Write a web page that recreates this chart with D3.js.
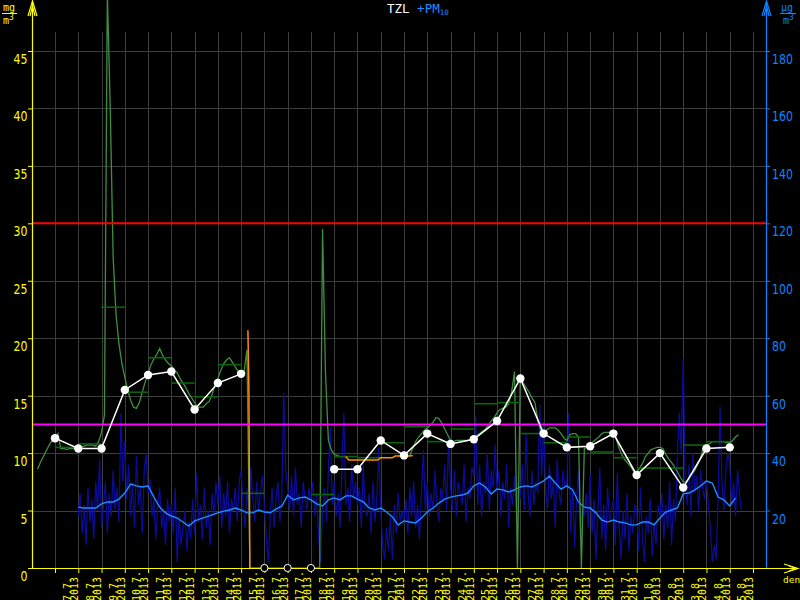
<!DOCTYPE html>
<html><head><meta charset="utf-8">
<script src="https://cdn.jsdelivr.net/npm/d3@7"></script>
<style>html,body{margin:0;padding:0;background:#000;}svg{display:block}</style>
</head><body>
<svg id="c" width="800" height="600"></svg>
<script>
// ---------------- DATA ----------------
// TZL (mg/m3), 3-hourly readings starting 6.7.2013 06:00 UTC
const tzlStart = Date.UTC(2013,6,6,6);
const tzlStepH = 3;
const tzl = [
 8.6,9.2,9.7,10.2,10.7,11.1,11.3,11.7,
 10.4,10.4,10.3,10.4,10.4,10.4,10.5,10.5,
 10.6,10.7,10.7,10.7,10.6,11.0,11.8,13.3,
 50,40,27,22,19.5,17.8,16.6,15.5,
 14.6,14.0,13.9,14.4,15.3,16.2,16.9,17.7,
 18.2,18.6,19.1,18.5,18.1,17.8,17.6,17.2,
 17.0,16.5,16.1,15.7,15.2,14.8,14.4,14.0,
 14.0,14.0,14.3,14.5,15.1,15.9,16.5,17.2,
 17.8,18.1,18.3,17.9,17.5,17.1,17.1,17.1,
 19.0,
 0,0,0,0,0,0,0,0,0,0,0,0,0,0,0,0,0,0,0,0,0,0,0,0,0,
 29.5,
 17,11.1,10.3,9.9,9.8,9.7,9.7,9.7,
 null,null,null,null,null,null,null,null,null,null,null,null,null,null,null,null,null,null,null,null,null,
 9.8,10.4,11.0,11.4,11.7,12.0,12.2,12.4,
 12.7,13.1,13.0,12.6,12.1,11.6,11.1,11.0,
 11.1,11.1,11.1,11.1,11.1,11.2,11.3,11.5,
 11.7,11.9,12.1,12.4,12.8,13.1,13.5,13.8,
 13.9,14.0,14.3,15.3,17.1,0,16.8,16.1,
 15.7,15.3,14.8,14.4,12.9,12.0,11.8,12.0,
 12.2,12.2,12.2,12.0,11.7,11.3,11.1,11.6,
 11.7,11.7,11.4,0,10.4,10.5,10.7,11.0,
 11.2,11.4,11.7,11.8,11.8,11.8,11.7,11.2,
 10.4,9.8,9.4,9.1,8.8,8.4,8.3,8.7,
 9.1,9.7,10.0,10.3,10.4,10.5,10.5,10.4,
 9.9,9.5,9.2,8.8,8.4,7.9,7.5,7.5,
 7.8,8.2,8.5,9.0,9.6,10.6,10.7,10.8,
 11.0,11.0,11.0,11.0,11.0,10.9,10.9,11.1,
 11.4,11.6
];
// second TZL trace (orange), hourly piece and 3-hourly piece
const orangeAStart = Date.UTC(2013,6,15,7);
const orangeA = [20.7, 15.5, 0];
const orangeBStart = Date.UTC(2013,6,19,12);
const orangeB = [9.7,9.4,9.4,9.4,9.4,9.4,9.4,9.4,9.4,9.4,9.4,9.4,9.6,9.6,9.6,9.6,9.6,9.75,9.75,9.75,9.75,9.75,9.75,9.8];

// daily TZL steps, days from 7.7.2013
const dayStart = Date.UTC(2013,6,7);
const tzlDaily = [10.5,10.8,22.7,15.3,18.3,16.1,14.9,17.7,6.5,0,0,6.4,9.7,9.6,10.9,12.3,11.0,12.1,14.3,14.4,11.7,10.9,11.4,10.1,9.6,8.7,8.7,10.7,11.0];
// TZL value at midnight (white points), null = missing
const tzlMidnight = [11.3,10.4,10.4,15.5,16.8,17.1,13.8,16.1,16.9,null,null,null,8.6,8.6,11.1,9.8,11.7,10.8,11.2,12.8,16.5,11.7,10.5,10.6,11.7,8.1,10.0,7.0,10.4,10.5];

// PM10 (ug/m3), 2-hourly from 8.7.2013 00:00
const pm10Start = Date.UTC(2013,6,8);
const pm10StepH = 2;
const pm10 = [
 18,26,12,22,8,28,16,24,10,30,20,38,
 14,22,30,12,26,18,34,20,28,16,54,30,
 44,24,36,18,30,14,39,22,28,12,34,40,
 26,31,18,24,10,22,28,14,20,8,24,16,
 22,12,28,2,18,8,14,20,6,16,10,24,
 12,33,16,22,10,28,14,20,8,26,18,30,
 22,32,14,26,18,30,12,24,20,28,16,30,
 34,22,14,28,18,35,24,16,30,20,26,32,
 22,10,2,18,28,14,24,30,16,26,61,34,
 28,20,32,18,35,22,26,14,30,24,20,28,
 24,30,18,26,10,2,20,28,16,34,49,22,
 30,18,26,14,36,54,22,28,16,36,24,30,
 22,28,14,36,20,18,26,12,30,16,24,42,
 20,8,3,14,6,18,3,22,12,26,16,20,
 16,24,12,28,18,30,14,22,10,26,41,20,
 30,18,26,20,34,22,16,28,24,36,20,45,
 28,20,34,18,30,26,22,36,16,28,24,35,
 32,53,22,36,18,30,26,40,20,34,28,43,
 26,34,18,30,24,36,14,28,22,32,20,30,
 24,36,20,47,26,18,34,22,30,26,57,32,
 51,28,20,36,24,30,14,38,26,22,34,28,
 30,54,12,28,7,24,34,10,22,18,26,14,
 33,12,24,3,20,35,10,22,6,28,16,20,
 24,8,33,14,3,20,10,26,6,18,12,22,
 20,6,28,10,2,18,12,24,4,16,8,22,
 18,26,10,22,14,30,8,24,16,40,54,40,
 73,30,22,36,18,40,26,32,20,34,28,24,
 30,22,14,2,8,3,24,56,30,20,34,40,
 36,22,30,18,34,26,20
];
// PM10 24h running mean, 6-hourly from 8.7.2013 00:00
const pm10AvgStart = Date.UTC(2013,6,8);
const pm10AvgStepH = 6;
const pm10Avg = [
 21.2,20.9,20.9,20.9,22.3,23.0,23.0,24.0,26.1,29.2,28.6,28.2,
 28.6,24.7,21.2,19.2,18.1,17.4,16.0,14.6,16.4,17.1,17.8,18.5,
 19.2,19.8,20.2,20.9,20.2,19.2,19.2,20.2,19.5,19.2,20.5,21.6,
 25.4,23.7,24.4,24.7,23.7,22.3,21.6,23.7,24.4,23.7,25.1,25.1,
 24.0,23.0,20.9,20.2,20.9,19.5,17.8,15.0,16.4,16.0,15.7,17.4,
 19.5,20.9,22.6,24.0,24.7,25.1,25.4,26.1,28.6,29.6,28.2,25.8,
 27.5,27.2,26.5,27.2,28.2,28.6,28.2,29.2,30.3,32.0,29.6,27.5,
 28.6,27.2,23.0,21.2,20.9,19.2,16.7,16.0,16.7,16.0,15.7,15.0,
 15.0,16.0,16.0,15.0,17.4,19.5,20.2,20.9,25.8,26.1,27.2,28.6,
 30.3,29.6,24.7,23.7,21.6,24.4
];
// limits
const limitTZL = 30;      // left axis
const limitPM10 = 50;     // right axis
const leftTicks = [0,5,10,15,20,25,30,35,40,45];
const rightTicks = [20,40,60,80,100,120,140,160,180];
const dayCount = 30;

// ---------------- SCALES ----------------
const H = 3600e3, D = 24*H;
const svg = d3.select("#c");
svg.append("rect").attr("width",800).attr("height",600).attr("fill","#000");
const x = d3.scaleUtc().domain([dayStart, dayStart + dayCount*D]).range([55,753]);
const yL = d3.scaleLinear().domain([0,45]).range([568,51]);
const yR = d3.scaleLinear().domain([0,180]).range([568,51]);
const X0 = 32, X1 = 766, YB = 568, YT = 32;
const days = d3.utcDay.range(new Date(dayStart), new Date(dayStart + dayCount*D + 1));

// grid
const grid = svg.append("g").attr("stroke","#3d3d3d").attr("stroke-width",1);
grid.selectAll("line.h").data(leftTicks.filter(v=>v>0)).join("line")
  .attr("x1",X0).attr("x2",X1).attr("y1",d=>Math.round(yL(d))+0.5).attr("y2",d=>Math.round(yL(d))+0.5);
grid.selectAll("line.v").data(days).join("line")
  .attr("x1",d=>Math.round(x(d))+0.5).attr("x2",d=>Math.round(x(d))+0.5).attr("y1",YT).attr("y2",YB);

// series helpers
const seq = (start, stepH, arr) => arr.map((v,i)=>({t:new Date(start + i*stepH*H), v}));
const lineL = d3.line().defined(d=>d.v!=null).x(d=>x(d.t)).y(d=>yL(d.v));
const lineR = d3.line().defined(d=>d.v!=null).x(d=>x(d.t)).y(d=>yR(d.v));

// PM10 hourly
svg.append("path").datum(seq(pm10Start,pm10StepH,pm10)).attr("d",lineR)
  .attr("fill","none").attr("stroke","#0c0c9c").attr("stroke-width",1.2);
// PM10 running mean
svg.append("path").datum(seq(pm10AvgStart,pm10AvgStepH,pm10Avg)).attr("d",lineR)
  .attr("fill","none").attr("stroke","#1e8cff").attr("stroke-width",1.4);

// TZL hourly
svg.append("path").datum(seq(tzlStart,tzlStepH,tzl)).attr("d",lineL)
  .attr("fill","none").attr("stroke","#3f8f3f").attr("stroke-width",1.3);
// daily steps
svg.append("g").selectAll("line").data(tzlDaily.map((v,i)=>({i,v}))).join("line")
  .attr("x1",d=>x(dayStart+d.i*D)).attr("x2",d=>x(dayStart+(d.i+1)*D))
  .attr("y1",d=>yL(d.v)).attr("y2",d=>yL(d.v))
  .attr("stroke","#0b640b").attr("stroke-width",1.6);
// orange trace
svg.append("path").datum(seq(orangeAStart,1,orangeA)).attr("d",lineL)
  .attr("fill","none").attr("stroke","#ff8c00").attr("stroke-width",1.5);
svg.append("path").datum(seq(orangeBStart,3,orangeB)).attr("d",lineL)
  .attr("fill","none").attr("stroke","#ff8c00").attr("stroke-width",1.5);

// limit lines
svg.append("line").attr("x1",X0).attr("x2",X1).attr("y1",yL(limitTZL)).attr("y2",yL(limitTZL))
  .attr("stroke","#ff0000").attr("stroke-width",2);
svg.append("line").attr("x1",X0).attr("x2",X1).attr("y1",yR(limitPM10)).attr("y2",yR(limitPM10))
  .attr("stroke","#ff00ff").attr("stroke-width",2);

// white midnight points
const mid = tzlMidnight.map((v,i)=>({t:new Date(dayStart+i*D), v}));
svg.append("path").datum(mid).attr("d",lineL).attr("fill","none").attr("stroke","#fff").attr("stroke-width",1.5);
svg.append("g").selectAll("circle").data(mid.filter(d=>d.v!=null)).join("circle")
  .attr("cx",d=>x(d.t)).attr("cy",d=>yL(d.v)).attr("r",4.2).attr("fill","#fff");

// axes ------------------------------------------------
const yellow = "#ffff00", blue = "#0a84ff";
// bottom ticks
const gx = svg.append("g").attr("transform",`translate(0,${YB})`)
  .call(d3.axisBottom(x).tickValues(days).tickSize(5).tickFormat(""));
gx.select(".domain").remove();
gx.selectAll("line").attr("stroke",yellow);
// bottom labels at noon
const noon = days.slice(0,dayCount).map(d=>new Date(+d+12*H));
const gl = svg.append("g").attr("transform",`translate(0,${YB})`)
  .call(d3.axisBottom(x).tickValues(noon).tickSize(0).tickFormat(""));
gl.select(".domain").remove();
const fmt1 = d3.utcFormat("%-d.%-m."), fmt2 = d3.utcFormat("%Y");
gl.selectAll(".tick").each(function(d){
  const g = d3.select(this);
  g.selectAll("text").remove();
  [[fmt1(d),3.5],[fmt2(d),11]].forEach(([s,dx])=>{
    g.append("text").attr("transform",`translate(${dx},${601-YB}) rotate(-90)`)
      .attr("fill",yellow).attr("font-family","DejaVu Sans Mono").attr("font-size",10)
      .attr("text-anchor","start").text(s);
  });
});
// left axis
const gyl = svg.append("g").attr("transform",`translate(${X0},0)`)
  .call(d3.axisLeft(yL).tickValues(leftTicks).tickSize(4));
gyl.select(".domain").remove();
gyl.selectAll("line").attr("stroke",yellow);
gyl.selectAll("text").attr("fill",yellow).attr("font-family","DejaVu Sans").attr("font-size",14)
  .attr("dy",null).attr("x",0).attr("y",0).attr("text-anchor","end")
  .attr("transform","translate(-4.5,12.5) scale(0.78,1)");
// right axis
const gyr = svg.append("g").attr("transform",`translate(${X1},0)`)
  .call(d3.axisRight(yR).tickValues(rightTicks).tickSize(4));
gyr.select(".domain").remove();
gyr.selectAll("line").attr("stroke",blue);
gyr.selectAll("text").attr("fill",blue).attr("font-family","DejaVu Sans").attr("font-size",14)
  .attr("dy",null).attr("x",0).attr("y",0).attr("text-anchor","start")
  .attr("transform","translate(6,12.5) scale(0.78,1)");

// axis lines with arrows
const ax = svg.append("g").attr("fill","none").attr("stroke-width",1.2);
ax.append("line").attr("x1",X0+0.5).attr("x2",X0+0.5).attr("y1",YB).attr("y2",1).attr("stroke",yellow);
ax.append("polyline").attr("points",`${X0-4},16 ${X0+0.5},1 ${X0+5},16`).attr("stroke",yellow);
ax.append("polyline").attr("points",`${X0-2},16 ${X0+0.5},6 ${X0+3},16`).attr("stroke",yellow);
ax.append("line").attr("x1",X1+0.5).attr("x2",X1+0.5).attr("y1",YB).attr("y2",1).attr("stroke",blue);
ax.append("polyline").attr("points",`${X1-4},16 ${X1+0.5},1 ${X1+5},16`).attr("stroke",blue);
ax.append("polyline").attr("points",`${X1-2},16 ${X1+0.5},6 ${X1+3},16`).attr("stroke",blue);
ax.append("line").attr("x1",28).attr("x2",798).attr("y1",YB+0.5).attr("y2",YB+0.5).attr("stroke",yellow);
ax.append("polyline").attr("points",`784,564 798,${YB+0.5} 784,573`).attr("stroke",yellow);
ax.append("polyline").attr("points",`789,566 796,${YB+0.5} 789,571`).attr("stroke",yellow);

// missing-day markers (hollow circles at zero)
svg.append("g").selectAll("circle").data(mid.filter(d=>d.v==null)).join("circle")
  .attr("cx",d=>x(d.t)).attr("cy",yL(0)).attr("r",3.6).attr("fill","#000")
  .attr("stroke","#fff").attr("stroke-width",1);

// units
const mono = "DejaVu Sans Mono";
svg.append("text").attr("x",3).attr("y",11).attr("fill",yellow).attr("font-family",mono).attr("font-size",10).text("mg");
svg.append("line").attr("x1",2).attr("x2",17).attr("y1",13.5).attr("y2",13.5).attr("stroke",yellow);
svg.append("text").attr("x",3).attr("y",24).attr("fill",yellow).attr("font-family",mono).attr("font-size",10)
  .call(t=>{t.append("tspan").text("m");t.append("tspan").attr("dy",-4).attr("font-size",8).text("3");});
svg.append("text").attr("x",781).attr("y",11).attr("fill",blue).attr("font-family",mono).attr("font-size",10).text("µg");
svg.append("line").attr("x1",780).attr("x2",796).attr("y1",13.5).attr("y2",13.5).attr("stroke",blue);
svg.append("text").attr("x",783).attr("y",24).attr("fill",blue).attr("font-family",mono).attr("font-size",10)
  .call(t=>{t.append("tspan").text("m");t.append("tspan").attr("dy",-4).attr("font-size",8).text("3");});
svg.append("text").attr("x",783).attr("y",583).attr("fill",yellow).attr("font-family",mono).attr("font-size",9.5).text("den");

// title
const title = svg.append("text").attr("x",387).attr("y",13).attr("font-family",mono).attr("font-size",12.5);
title.append("tspan").attr("fill","#fff").text("TZL ");
title.append("tspan").attr("fill","#1e8cff").text("+PM");
title.append("tspan").attr("fill","#1e8cff").attr("font-size",7.5).attr("dy",2).text("10");
</script>
</body></html>
